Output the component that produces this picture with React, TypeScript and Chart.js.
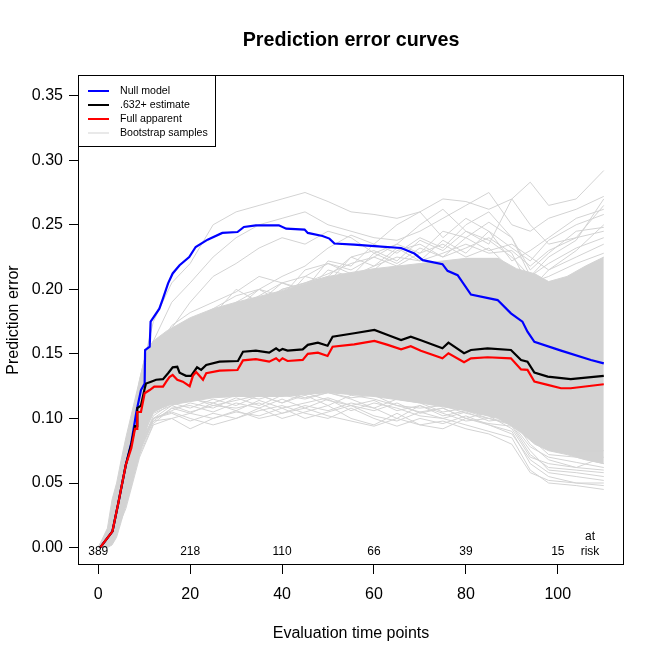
import { useEffect, useRef } from 'react';
import { Chart, registerables } from 'chart.js';

Chart.register(...registerables);

const FONT = '"Liberation Sans", Arial, Helvetica, sans-serif';

const chartTitle = 'Prediction error curves';
const xTicks = [0, 20, 40, 60, 80, 100];
const yTicks = [0, 0.05, 0.1, 0.15, 0.2, 0.25, 0.3, 0.35];

// number at risk, printed under the curves
const riskTimes = [0, 20, 40, 60, 80, 100];
const riskCounts = ['389', '218', '110', '66', '39', '15'];

// Null model (blue)
const nullTimes = [0.4, 3.1, 4.4, 6.0, 7.2, 8.3, 9.3, 10.1, 10.2, 11.2, 11.4, 13.3, 14.1, 15.2, 16.2, 17.7, 19.8, 21.2, 23.8, 27, 30.3, 31.7, 34.3, 39.3, 40.9, 44.9, 45.6, 48.8, 50.3, 51.4, 55.7, 60.1, 65.9, 68.8, 70.6, 74.9, 76, 78.2, 81.1, 86.9, 89.8, 92.3, 93.4, 94.9, 100.7, 107.2, 110];
const nullErr = [0, 0.0126, 0.035, 0.064, 0.081, 0.105, 0.122, 0.127, 0.153, 0.1556, 0.175, 0.185, 0.193, 0.2046, 0.2123, 0.2187, 0.225, 0.2328, 0.2385, 0.2437, 0.2444, 0.2483, 0.2496, 0.2496, 0.247, 0.2463, 0.2437, 0.2413, 0.2393, 0.2355, 0.2347, 0.2334, 0.232, 0.2277, 0.2226, 0.2195, 0.2143, 0.211, 0.196, 0.1917, 0.1814, 0.175, 0.1672, 0.1594, 0.1525, 0.1453, 0.1427];

// .632+ estimate (black)
const est632Times = [0.4, 3.1, 4.4, 6.0, 7.2, 8.0, 8.5, 8.5, 9.3, 10.1, 10.4, 11.5, 12.6, 14.1, 15.2, 16.2, 17.2, 17.7, 19.1, 20.2, 21.5, 22.4, 23.5, 26.4, 30.4, 31.5, 34.3, 37.2, 38.7, 39.4, 40.1, 41.2, 44.5, 45.6, 47.8, 49.9, 51, 55.7, 60.1, 63, 65.9, 68, 70.2, 74.9, 76.2, 79.6, 81.1, 84.7, 89.8, 92, 93.4, 94.9, 97.8, 102.8, 110];
const est632Err = [0, 0.0126, 0.035, 0.064, 0.08, 0.094, 0.094, 0.108, 0.11, 0.123, 0.127, 0.1285, 0.13, 0.1304, 0.135, 0.1396, 0.14, 0.1355, 0.133, 0.133, 0.1396, 0.1376, 0.1414, 0.144, 0.1445, 0.1517, 0.1525, 0.151, 0.1543, 0.1525, 0.1538, 0.1525, 0.1535, 0.157, 0.1587, 0.1563, 0.1633, 0.166, 0.1685, 0.1646, 0.1607, 0.1633, 0.1605, 0.1543, 0.1587, 0.1505, 0.153, 0.1543, 0.153, 0.1453, 0.144, 0.1355, 0.1324, 0.1304, 0.133];

// Full apparent (red)
const appTimes = [0.4, 3.1, 4.4, 6.0, 7.2, 8.0, 8.5, 8.5, 9.3, 10.1, 11.2, 12.2, 14.1, 14.8, 15.5, 16.2, 17.2, 18.4, 19.9, 20.6, 21.3, 22.8, 23.5, 26.4, 30.3, 31.5, 34.3, 37.2, 38.7, 39.4, 40.1, 41.2, 44.5, 45.6, 47.8, 49.9, 51, 55.7, 60.1, 63, 65.9, 68, 70.2, 74.9, 76.2, 79.6, 81.1, 84.7, 89.8, 92, 93.4, 94.9, 97.8, 100.7, 102.8, 110];
const appErr = [0, 0.0126, 0.035, 0.064, 0.077, 0.092, 0.092, 0.105, 0.105, 0.1195, 0.122, 0.1247, 0.1247, 0.1285, 0.132, 0.1337, 0.13, 0.1285, 0.125, 0.133, 0.136, 0.13, 0.135, 0.137, 0.1375, 0.145, 0.146, 0.144, 0.1466, 0.1445, 0.1466, 0.1445, 0.1453, 0.15, 0.151, 0.1484, 0.1556, 0.1574, 0.16, 0.157, 0.1535, 0.156, 0.1525, 0.1466, 0.1505, 0.1435, 0.1466, 0.1474, 0.1466, 0.138, 0.1376, 0.1285, 0.126, 0.1234, 0.1234, 0.1265];

// dense bulk of the bootstrap curves
const bulkTimes = [0, 2, 3, 4, 5, 6, 7, 8, 9, 10, 11, 12, 15, 20, 25, 30, 40, 50, 60, 70, 75, 80, 87, 91, 95, 98, 102, 106, 110];
const bulkLow = [0, 0, 0.002, 0.008, 0.02, 0.033, 0.045, 0.06, 0.072, 0.085, 0.098, 0.105, 0.11, 0.113, 0.116, 0.117, 0.117, 0.12, 0.117, 0.112, 0.109, 0.106, 0.1, 0.092, 0.08, 0.075, 0.072, 0.068, 0.065];
const bulkHigh = [0, 0.015, 0.037, 0.05, 0.068, 0.085, 0.1, 0.115, 0.13, 0.145, 0.155, 0.16, 0.168, 0.178, 0.185, 0.19, 0.199, 0.21, 0.216, 0.22, 0.222, 0.224, 0.224, 0.216, 0.212, 0.206, 0.21, 0.218, 0.225];

// individual bootstrap curves outside the bulk
const bootTimes = [0, 3, 6, 9, 12, 16, 20, 25, 30, 35, 40, 45, 50, 55, 60, 65, 70, 75, 80, 85, 90, 94, 98, 104, 110];
const boot01 = [0, 0.02, 0.07, 0.13, 0.175, 0.205, 0.22, 0.25, 0.26, 0.265, 0.27, 0.275, 0.268, 0.26, 0.258, 0.255, 0.26, 0.27, 0.268, 0.262, 0.27, 0.283, 0.265, 0.27, 0.292];
const boot02 = [0, 0.015, 0.06, 0.12, 0.16, 0.19, 0.205, 0.225, 0.24, 0.25, 0.255, 0.26, 0.25, 0.245, 0.24, 0.238, 0.245, 0.255, 0.265, 0.275, 0.25, 0.245, 0.255, 0.262, 0.272];
const boot03 = [0, 0.02, 0.065, 0.11, 0.14, 0.17, 0.19, 0.21, 0.22, 0.232, 0.24, 0.235, 0.245, 0.24, 0.228, 0.235, 0.25, 0.262, 0.245, 0.235, 0.27, 0.25, 0.235, 0.24, 0.265];
const boot04 = [0, 0.01, 0.055, 0.1, 0.13, 0.15, 0.17, 0.175, 0.19, 0.2, 0.21, 0.218, 0.232, 0.242, 0.235, 0.25, 0.26, 0.24, 0.255, 0.245, 0.232, 0.222, 0.238, 0.25, 0.258];
const boot05 = [0, 0.015, 0.06, 0.105, 0.14, 0.155, 0.165, 0.18, 0.185, 0.195, 0.205, 0.21, 0.22, 0.215, 0.225, 0.235, 0.228, 0.245, 0.24, 0.252, 0.24, 0.215, 0.228, 0.245, 0.248];
const boot06 = [0, 0.01, 0.05, 0.1, 0.13, 0.145, 0.16, 0.17, 0.18, 0.185, 0.2, 0.205, 0.21, 0.225, 0.23, 0.222, 0.238, 0.23, 0.245, 0.238, 0.225, 0.21, 0.22, 0.232, 0.24];
const boot07 = [0, 0.02, 0.06, 0.11, 0.135, 0.16, 0.175, 0.185, 0.195, 0.2, 0.195, 0.215, 0.22, 0.212, 0.215, 0.23, 0.235, 0.225, 0.232, 0.24, 0.228, 0.2, 0.215, 0.225, 0.235];
const boot08 = [0, 0.012, 0.055, 0.1, 0.125, 0.15, 0.165, 0.178, 0.188, 0.19, 0.2, 0.205, 0.212, 0.22, 0.225, 0.218, 0.228, 0.235, 0.225, 0.232, 0.215, 0.205, 0.21, 0.22, 0.228];
const boot09 = [0, 0.005, 0.03, 0.07, 0.095, 0.1, 0.092, 0.1, 0.105, 0.102, 0.108, 0.1, 0.105, 0.11, 0.102, 0.098, 0.105, 0.1, 0.095, 0.09, 0.085, 0.06, 0.05, 0.048, 0.045];
const boot10 = [0, 0.008, 0.035, 0.075, 0.1, 0.105, 0.1, 0.095, 0.1, 0.108, 0.1, 0.105, 0.11, 0.1, 0.095, 0.104, 0.095, 0.092, 0.1, 0.095, 0.09, 0.065, 0.055, 0.05, 0.05];
const boot11 = [0, 0.01, 0.04, 0.08, 0.1, 0.11, 0.105, 0.11, 0.108, 0.112, 0.104, 0.11, 0.106, 0.112, 0.108, 0.1, 0.11, 0.104, 0.098, 0.1, 0.095, 0.075, 0.06, 0.058, 0.055];
const boot12 = [0, 0.006, 0.035, 0.075, 0.098, 0.108, 0.11, 0.105, 0.112, 0.108, 0.115, 0.108, 0.115, 0.106, 0.112, 0.108, 0.102, 0.1, 0.105, 0.098, 0.1, 0.08, 0.068, 0.062, 0.06];
const boot13 = [0, 0.01, 0.04, 0.08, 0.105, 0.112, 0.108, 0.115, 0.11, 0.118, 0.112, 0.118, 0.11, 0.118, 0.115, 0.11, 0.105, 0.108, 0.1, 0.105, 0.098, 0.085, 0.072, 0.07, 0.065];
const boot14 = [0, 0.008, 0.038, 0.078, 0.1, 0.106, 0.112, 0.108, 0.116, 0.11, 0.118, 0.115, 0.12, 0.115, 0.108, 0.115, 0.112, 0.105, 0.108, 0.102, 0.092, 0.07, 0.065, 0.062, 0.07];
const boot15 = [0, 0.01, 0.042, 0.082, 0.104, 0.11, 0.115, 0.112, 0.118, 0.115, 0.12, 0.116, 0.12, 0.116, 0.118, 0.11, 0.108, 0.11, 0.104, 0.1, 0.105, 0.09, 0.078, 0.075, 0.075];
const boot16 = [0, 0.007, 0.036, 0.076, 0.1, 0.104, 0.098, 0.104, 0.1, 0.106, 0.11, 0.104, 0.1, 0.108, 0.1, 0.094, 0.1, 0.096, 0.102, 0.095, 0.088, 0.068, 0.058, 0.055, 0.052];
const boot17 = [0, 0.012, 0.05, 0.095, 0.13, 0.15, 0.168, 0.18, 0.2, 0.19, 0.205, 0.198, 0.215, 0.21, 0.228, 0.22, 0.232, 0.225, 0.24, 0.23, 0.235, 0.225, 0.215, 0.23, 0.25];
const boot18 = [0, 0.01, 0.048, 0.092, 0.125, 0.148, 0.16, 0.172, 0.185, 0.2, 0.19, 0.21, 0.205, 0.225, 0.218, 0.232, 0.222, 0.238, 0.228, 0.245, 0.222, 0.23, 0.24, 0.255, 0.262];
const boot19 = [0, 0.015, 0.058, 0.108, 0.15, 0.172, 0.182, 0.19, 0.198, 0.21, 0.205, 0.2, 0.222, 0.218, 0.235, 0.228, 0.24, 0.232, 0.25, 0.26, 0.24, 0.21, 0.225, 0.238, 0.27];
const boot20 = [0, 0.01, 0.05, 0.098, 0.128, 0.14, 0.155, 0.165, 0.175, 0.182, 0.19, 0.195, 0.205, 0.21, 0.218, 0.225, 0.222, 0.228, 0.235, 0.228, 0.23, 0.218, 0.23, 0.24, 0.245];
const boot21 = [0, 0.006, 0.032, 0.072, 0.096, 0.108, 0.104, 0.112, 0.106, 0.114, 0.108, 0.112, 0.116, 0.11, 0.106, 0.112, 0.104, 0.108, 0.1, 0.096, 0.094, 0.072, 0.062, 0.06, 0.058];
const boot22 = [0, 0.008, 0.036, 0.078, 0.102, 0.112, 0.116, 0.11, 0.114, 0.118, 0.112, 0.12, 0.114, 0.11, 0.114, 0.106, 0.11, 0.102, 0.106, 0.1, 0.096, 0.078, 0.07, 0.066, 0.062];
const boot23 = [0, 0.007, 0.034, 0.074, 0.098, 0.1, 0.104, 0.1, 0.106, 0.1, 0.104, 0.108, 0.102, 0.098, 0.094, 0.1, 0.095, 0.098, 0.092, 0.088, 0.08, 0.058, 0.052, 0.05, 0.048];
const bootCurves = [boot01, boot02, boot03, boot04, boot05, boot06, boot07, boot08, boot09, boot10, boot11, boot12, boot13, boot14, boot15, boot16, boot17, boot18, boot19, boot20, boot21, boot22, boot23];

const legendLabels = ['Null model', '.632+ estimate', 'Full apparent', 'Bootstrap samples'];
const BLUE = '#0000FF';
const BLACK = '#000000';
const RED = '#FF0000';
const GREY = '#D3D3D3';
const legendColors = [BLUE, BLACK, RED, GREY];
const legendWidths = [2, 2, 2, 1];

const pts = (xs: number[], ys: number[]) => xs.map((x, i) => ({ x, y: ys[i] }));

const decorations = {
  id: 'decorations',
  afterDraw(chart: Chart) {
    const { ctx, chartArea, scales } = chart;
    const xs = scales['x'];
    const ys = scales['y'];
    ctx.save();
    // plot box
    ctx.strokeStyle = '#000';
    ctx.lineWidth = 1;
    ctx.strokeRect(chartArea.left + 0.5, chartArea.top + 0.5, chartArea.right - chartArea.left - 1, chartArea.bottom - chartArea.top - 1);

    // main title, centred over the plot region
    ctx.fillStyle = '#000';
    ctx.font = `bold 19.7px ${FONT}`;
    ctx.textAlign = 'center';
    ctx.textBaseline = 'middle';
    ctx.fillText(chartTitle, (chartArea.left + chartArea.right) / 2, 41);

    // legend in the top-left corner
    const lx = chartArea.left;
    const ly = chartArea.top;
    ctx.fillStyle = '#fff';
    ctx.fillRect(lx + 1, ly + 1, 136, 70);
    ctx.strokeRect(lx + 0.5, ly + 0.5, 137, 71);
    ctx.font = `10.6px ${FONT}`;
    ctx.textAlign = 'left';
    legendLabels.forEach((lab, i) => {
      const y = ly + 16 + i * 14;
      ctx.beginPath();
      ctx.strokeStyle = legendColors[i];
      ctx.lineWidth = legendWidths[i];
      ctx.moveTo(lx + 10, y);
      ctx.lineTo(lx + 31, y);
      ctx.stroke();
      ctx.fillStyle = '#000';
      ctx.fillText(lab, lx + 42, y + 0.5);
    });

    // number at risk
    ctx.font = `12px ${FONT}`;
    ctx.textAlign = 'center';
    ctx.fillStyle = '#000';
    const y0 = ys.getPixelForValue(0);
    riskTimes.forEach((t, i) => {
      ctx.fillText(riskCounts[i], xs.getPixelForValue(t), y0 + 4.5);
    });
    const xr = xs.getPixelForValue(107);
    ctx.fillText('at', xr, y0 - 10.5);
    ctx.fillText('risk', xr, y0 + 4.5);
    ctx.restore();
  },
};

export default function App() {
  const canvasRef = useRef<HTMLCanvasElement>(null);

  useEffect(() => {
    if (!canvasRef.current) return;
    const tickFont = { family: FONT, size: 16 };
    const datasets: any[] = [
      {
        data: pts(bulkTimes, bulkLow),
        borderColor: GREY,
        borderWidth: 1,
        pointRadius: 0,
        fill: false,
        order: 100,
      },
      {
        data: pts(bulkTimes, bulkHigh),
        borderColor: GREY,
        backgroundColor: GREY,
        borderWidth: 1,
        pointRadius: 0,
        fill: '-1',
        order: 99,
      },
      ...bootCurves.map((c) => ({
        data: pts(bootTimes, c),
        borderColor: GREY,
        borderWidth: 1,
        pointRadius: 0,
        fill: false,
        order: 50,
      })),
      { data: pts(nullTimes, nullErr), borderColor: BLUE, borderWidth: 2.2, pointRadius: 0, fill: false, order: 3 },
      { data: pts(est632Times, est632Err), borderColor: BLACK, borderWidth: 2.2, pointRadius: 0, fill: false, order: 2 },
      { data: pts(appTimes, appErr), borderColor: RED, borderWidth: 2.2, pointRadius: 0, fill: false, order: 1 },
    ];

    const chart = new Chart(canvasRef.current, {
      type: 'line',
      data: { datasets },
      options: {
        animation: false,
        responsive: false,
        devicePixelRatio: 1,
        layout: { padding: { left: 0, right: 40, top: 75, bottom: 0 } },
        elements: { line: { tension: 0 } },
        plugins: {
          legend: { display: false },
          tooltip: { enabled: false },
          title: { display: false },
        },
        scales: {
          x: {
            type: 'linear',
            min: -4.4,
            max: 114.4,
            afterBuildTicks: (s: any) => { s.ticks = xTicks.map((v) => ({ value: v })); },
            afterFit: (s: any) => { s.height = 99; },
            grid: { drawOnChartArea: false, drawTicks: true, tickLength: 9, color: '#000' },
            border: { display: false },
            ticks: { color: '#000', font: tickFont, padding: 11, maxRotation: 0, autoSkip: false, callback: (v: any) => String(v) },
            title: { display: true, text: 'Evaluation time points', color: '#000', font: tickFont, padding: { top: 0, bottom: 20.4 } },
          },
          y: {
            type: 'linear',
            min: -0.0135,
            max: 0.366,
            afterBuildTicks: (s: any) => { s.ticks = yTicks.map((v) => ({ value: v })); },
            afterFit: (s: any) => { s.width = 78; },
            grid: { drawOnChartArea: false, drawTicks: true, tickLength: 9, color: '#000' },
            border: { display: false },
            ticks: { color: '#000', font: tickFont, padding: 6, autoSkip: false, callback: (v: any) => Number(v).toFixed(2) },
            title: { display: true, text: 'Prediction error', color: '#000', font: tickFont, padding: { top: 4.4, bottom: 0 } },
          },
        },
      },
      plugins: [decorations],
    });
    return () => { chart.destroy(); };
  }, []);

  return (
    <div style={{ position: 'absolute', left: 0, top: 0, width: 664, height: 664, background: '#fff' }}>
      <canvas ref={canvasRef} width={664} height={664} style={{ width: 664, height: 664 }} />
    </div>
  );
}
